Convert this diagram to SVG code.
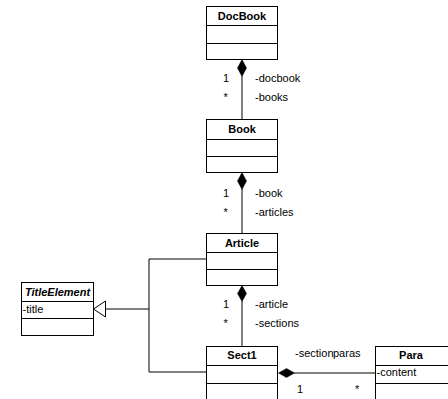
<svg xmlns="http://www.w3.org/2000/svg" width="448" height="399" viewBox="0 0 448 399">
<style>
.box{fill:#fff;stroke:#000;stroke-width:1}
.sep{stroke:#000;stroke-width:1}
.hdr{font-family:"Liberation Sans",Arial,sans-serif;font-size:11px;font-weight:bold;text-anchor:middle;fill:#000}
.lbl{font-family:"Liberation Sans",Arial,sans-serif;font-size:11px;fill:#000}
.con{stroke:#000;stroke-width:1;fill:none}
.dia{fill:#000;stroke:#000;stroke-width:0.5}
</style>
<rect width="448" height="399" fill="#fff"/>
<g id="connectors">
  <line class="con" x1="242" y1="76" x2="242" y2="119.5"/>
  <path class="dia" d="M242,59.5 L246.5,68 L242,76.5 L237.5,68 Z"/>
  <line class="con" x1="242" y1="189" x2="242" y2="233.5"/>
  <path class="dia" d="M242,172.5 L246.5,181 L242,189.5 L237.5,181 Z"/>
  <line class="con" x1="242" y1="301" x2="242" y2="346.5"/>
  <path class="dia" d="M242,285.5 L246.5,293.5 L242,301.5 L237.5,293.5 Z"/>
  <line class="con" x1="294" y1="373" x2="375.5" y2="373"/>
  <path class="dia" d="M278.5,373 L286.5,368.5 L294.5,373 L286.5,377.5 Z"/>
  <polyline class="con" points="206,259 149,259 149,372 206,372"/>
  <line class="con" x1="105" y1="309" x2="149" y2="309"/>
  <polygon points="93.5,309 105.5,301 105.5,317" fill="#fff" stroke="#000" stroke-width="1"/>
  <text class="lbl" x="223" y="82">1</text>
  <text class="lbl" x="223.5" y="101">*</text>
  <text class="lbl" x="255" y="82">-docbook</text>
  <text class="lbl" x="255" y="101">-books</text>
  <text class="lbl" x="223" y="197">1</text>
  <text class="lbl" x="223.5" y="216">*</text>
  <text class="lbl" x="255" y="197">-book</text>
  <text class="lbl" x="255" y="216">-articles</text>
  <text class="lbl" x="223" y="308">1</text>
  <text class="lbl" x="223.5" y="327">*</text>
  <text class="lbl" x="255" y="308">-article</text>
  <text class="lbl" x="255" y="327">-sections</text>
  <text class="lbl" x="295" y="357">-section</text>
  <text class="lbl" x="333" y="357">paras</text>
  <text class="lbl" x="297" y="393">1</text>
  <text class="lbl" x="355" y="393">*</text>
</g>
<g id="DocBook">
  <rect class="box" x="206.5" y="6.5" width="71" height="53"/>
  <line class="sep" x1="206.5" y1="25.5" x2="277.5" y2="25.5"/>
  <line class="sep" x1="206.5" y1="43.5" x2="277.5" y2="43.5"/>
  <text class="hdr" x="242" y="19.5">DocBook</text>
</g>
<g id="Book">
  <rect class="box" x="206.5" y="119.5" width="71" height="53"/>
  <line class="sep" x1="206.5" y1="139.5" x2="277.5" y2="139.5"/>
  <line class="sep" x1="206.5" y1="156.5" x2="277.5" y2="156.5"/>
  <text class="hdr" x="242" y="133">Book</text>
</g>
<g id="Article">
  <rect class="box" x="206.5" y="233.5" width="71" height="52"/>
  <line class="sep" x1="206.5" y1="252.5" x2="277.5" y2="252.5"/>
  <line class="sep" x1="206.5" y1="269.5" x2="277.5" y2="269.5"/>
  <text class="hdr" x="242" y="246.5">Article</text>
</g>
<g id="Sect1">
  <rect class="box" x="206.5" y="346.5" width="71" height="60"/>
  <line class="sep" x1="206.5" y1="365.5" x2="277.5" y2="365.5"/>
  <line class="sep" x1="206.5" y1="383.5" x2="277.5" y2="383.5"/>
  <text class="hdr" x="242" y="359">Sect1</text>
</g>
<g id="Para">
  <rect class="box" x="375.5" y="346.5" width="73" height="60"/>
  <line class="sep" x1="375.5" y1="365.5" x2="448.5" y2="365.5"/>
  <line class="sep" x1="375.5" y1="383.5" x2="448.5" y2="383.5"/>
  <text class="hdr" x="411" y="359">Para</text>
  <text class="lbl" x="376.5" y="376">-content</text>
</g>
<g id="TitleElement">
  <rect class="box" x="21.5" y="282.5" width="72" height="53"/>
  <line class="sep" x1="21.5" y1="301.5" x2="93.5" y2="301.5"/>
  <line class="sep" x1="21.5" y1="318.5" x2="93.5" y2="318.5"/>
  <text class="hdr" x="57.5" y="296" font-style="italic">TitleElement</text>
  <text class="lbl" x="22.5" y="313">-title</text>
</g>
</svg>
